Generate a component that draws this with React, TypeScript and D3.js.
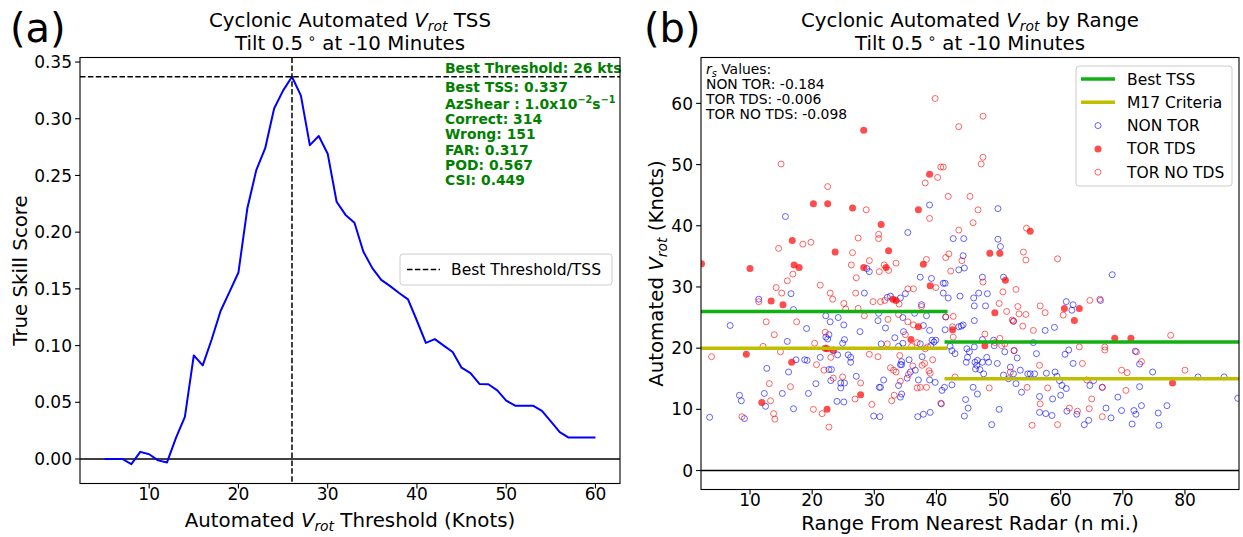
import React from 'react';
import * as d3 from 'd3';

// ---------- Panel (a) data ----------
const thresholds = [5,6,7,8,9,10,11,12,13,14,15,16,17,18,19,20,21,22,23,24,25,26,27,28,29,30,31,32,33,34,35,36,37,38,39,40,41,42,43,44,45,46,47,48,49,50,51,52,53,54,55,56,57,58,59,60];
const tssValues = [0,0,0,-0.0045,0.0063,0.0042,-0.0012,-0.003,0.0186,0.0371,0.0913,0.0826,0.1054,0.1305,0.1473,0.1644,0.221,0.2547,0.274,0.309,0.3248,0.337,0.3204,0.2767,0.2848,0.2692,0.2268,0.2152,0.2083,0.1828,0.1683,0.1579,0.1524,0.1464,0.1407,0.1219,0.1024,0.1057,0.1,0.0943,0.0805,0.0757,0.0662,0.0659,0.0605,0.0515,0.047,0.047,0.047,0.0425,0.0332,0.0237,0.0189,0.0189,0.0189,0.0189];
const bestThreshold = 26;
const bestTSS = 0.337;
const xTicksA = [10,20,30,40,50,60];
const yTicksA = [0,0.05,0.1,0.15,0.2,0.25,0.3,0.35];
const statLines = ['Best TSS: 0.337','AZSHEAR','Correct: 314','Wrong: 151','FAR: 0.317','POD: 0.567','CSI: 0.449'];

// ---------- Panel (b) data ----------
const nonTor: [number, number][] = [
  [38.9,43.4],[15.7,41.5],[35.4,38.9],[42.7,37.9],[28.8,33.0],[29.2,32.5],[37.4,31.6],[39.2,31.4],[43.6,32.8],[41.1,30.6],[41.4,30.6],[28.4,29.0],[16.6,28.9],[11.4,28.0],[32.1,28.3],[32.6,28.5],[34.2,28.2],[35.0,28.9],[37.6,27.1],[41.1,29.0],[41.9,28.2],[43.8,28.5],[17.0,26.3],
  [49.9,42.8],[44.4,37.9],[49.9,37.8],[50.3,36.6],[44.3,35.1],[44.5,33.1],[68.3,32.0],[47.4,31.6],[50.8,31.6],[46.8,29.0],[48.2,28.9],[46.0,28.2],[46.1,26.9],[47.9,26.9],[60.9,27.6],[62.0,27.1],[66.4,27.8],
  [6.8,23.7],[3.5,8.7],[8.3,12.3],[8.6,11.4],[9.1,8.5],[12.7,16.7],[12.3,12.6],[12.5,10.5],[15.2,12.6],[16.0,21.1],[16.2,16.1],[17.0,10.1],[17.4,18.1],[18.8,18.1],[19.2,18.0],[19.1,23.2],[19.4,12.6],[20.6,14.2],[21.3,18.5],[22.2,25.3],[22.2,21.8],[22.7,22.2],[22.9,24.3],[22.5,21.5],[22.7,16.5],[23.1,16.5],[23.0,14.7],[23.4,19.6],[24.1,18.9],[24.2,25.0],[24.0,11.3],[24.6,14.3],[24.6,13.5],[25.1,23.8],[25.2,21.4],[24.9,20.8],[25.2,14.3],[25.1,11.2],[25.8,18.9],[26.2,18.5],[26.2,17.7],[27.1,15.4],[27.7,22.7],[29.9,8.9],[30.6,24.5],[30.7,25.7],[30.8,13.6],[31.0,13.6],[30.9,8.8],[31.1,20.7],[31.5,14.8],[31.8,23.3],[33.3,21.7],[33.9,20.3],[33.9,13.9],[34.2,12.0],[34.4,12.5],[34.2,17.3],[34.4,17.3],[34.4,17.8],[34.6,25.0],[34.7,22.7],[34.6,20.8],[35.3,15.1],[35.8,16.1],[35.6,18.1],[36.5,25.7],[36.6,16.4],[37.0,8.8],[37.1,14.8],[37.4,20.7],[37.7,18.6],[37.9,23.7],[37.9,9.2],[38.4,25.3],[38.9,14.8],[39.0,9.5],[38.9,22.9],[39.1,20.4],[39.3,21.3],[39.6,21.0],[39.8,14.4],[39.9,21.3],[40.8,10.9],[40.9,13.1],[41.3,13.6],[41.5,25.1],[41.4,23.0],[42.5,14.0],[42.2,20.3],[42.5,19.6],[43.0,19.1],[43.6,23.5],
  [61.8,26.2],[44.0,23.6],[44.3,23.8],[46.1,24.5],[52.4,24.4],[57.5,22.9],[59.0,23.4],[44.9,19.9],[45.3,19.4],[45.0,18.5],[44.8,17.7],[46.1,20.2],[46.2,17.7],[46.6,18.0],[46.5,17.2],[46.3,16.6],[47.0,16.5],[47.4,17.7],[47.6,15.8],[48.1,18.5],[48.4,17.7],[47.4,21.4],[49.2,21.3],[49.3,20.4],[49.8,17.5],[51.0,19.4],[52.5,19.6],[53.0,18.4],[51.9,16.9],[50.8,15.6],[51.6,15.0],[52.4,15.8],[53.5,16.4],[55.6,20.9],[56.1,19.1],[54.7,15.8],[55.1,15.8],[55.8,15.8],[57.7,15.9],[59.1,16.1],[60.7,19.0],[61.3,19.7],[62.0,17.5],[72.0,19.5],[72.7,17.4],[74.8,16.1],[59.4,15.4],[59.8,14.7],[60.2,13.9],[60.9,13.4],[60.0,12.3],[58.7,11.7],[65.3,14.7],[64.7,13.9],[66.7,13.6],[56.6,12.1],[56.6,9.5],[57.6,9.3],[58.6,9.0],[53.7,12.8],[52.8,14.2],[46.6,12.5],[45.9,13.6],[44.7,11.6],[45.1,10.2],[44.5,8.9],[50.1,10.0],[48.9,7.5],[63.8,7.5],[64.5,8.2],[61.0,9.7],[62.6,9.2],[67.3,10.2],[68.1,8.6],[69.2,12.0],[69.8,9.8],[71.5,7.6],[71.8,9.8],[72.1,9.2],[72.7,13.7],[73.0,10.6],[75.7,9.4],[75.8,7.4],[77.1,10.6],[82.1,15.3],[86.3,15.3],[88.5,11.8]
];
const torTds: [number, number][] = [
  [28.3,55.6],[38.9,48.4],[20.2,43.6],[22.5,43.6],[26.5,42.9],[37.1,42.6],[31.1,40.2],[16.8,37.6],[23.7,35.7],[32.3,35.9],[2.2,33.8],[10.0,33.0],[17.1,33.6],[17.9,33.2],[28.3,33.2],[31.9,33.2],[37.9,33.7],[39.0,30.2],[13.4,27.7],[15.3,27.1],[33.0,28.0],[33.5,27.8],
  [55.1,39.1],[48.6,35.5],[50.2,35.5],[51.1,31.1],[60.6,26.5],[63.0,26.5],
  [9.4,19.0],[11.9,11.1],[16.7,17.7],[22.1,20.0],[22.4,19.9],[23.4,19.7],[22.4,10.0],[27.8,12.4],[35.9,21.4],[37.1,23.5],[42.6,23.0],
  [49.4,25.8],[62.2,24.5],[47.8,20.4],[68.7,21.6],[71.3,21.6],[78.0,14.3]
];
const torNoTds: [number, number][] = [
  [39.8,60.8],[43.6,56.2],[15.0,50.1],[40.2,47.9],[40.7,49.6],[41.1,49.6],[38.2,47.0],[22.5,46.4],[41.9,44.8],[28.7,42.6],[38.9,41.2],[43.6,39.3],[30.7,38.6],[30.7,37.9],[27.4,38.0],[14.6,36.3],[18.5,37.0],[19.8,37.3],[26.5,35.6],[38.4,34.5],[42.0,35.4],[41.5,34.8],[29.2,34.3],[26.3,33.6],[30.8,32.5],[31.6,33.6],[32.3,32.7],[33.5,33.9],[16.9,32.1],[27.1,31.5],[42.3,32.6],[16.0,31.0],[21.3,30.3],[39.9,29.9],[14.2,29.9],[22.9,29.0],[27.0,29.0],[15.1,29.0],[23.3,28.0],[11.4,27.6],[25.1,27.3],[29.8,27.6],[31.0,27.6],[31.7,27.8],[35.4,29.7],[36.3,29.7],[37.6,26.8],[34.0,27.2],[27.4,26.5],
  [47.5,57.9],[47.5,51.2],[47.2,50.1],[45.4,44.8],[46.7,42.6],[45.9,40.5],[54.5,39.6],[54.0,35.7],[54.4,34.4],[59.5,34.6],[44.1,34.3],[47.5,30.8],[50.7,29.2],[52.8,29.6],[50.1,27.3],[53.1,26.8],[56.7,26.9],[64.7,27.8],[66.3,28.0],
  [3.8,18.6],[8.7,8.8],[12.1,20.3],[12.6,24.3],[13.9,22.2],[13.1,14.2],[13.3,11.4],[13.8,9.3],[14.0,8.4],[14.9,19.4],[16.5,13.7],[17.5,24.3],[20.4,20.8],[20.2,10.0],[20.7,17.3],[21.6,9.3],[22.1,22.6],[21.9,16.4],[23.4,15.1],[22.7,7.1],[23.0,18.5],[24.9,15.3],[25.4,26.4],[26.9,11.7],[27.8,14.3],[28.4,25.3],[29.2,19.0],[29.6,10.8],[30.6,18.6],[32.1,20.7],[32.2,24.7],[32.6,16.8],[32.8,11.4],[33.1,16.4],[33.2,12.3],[33.5,16.1],[33.9,25.5],[34.1,18.8],[34.2,14.6],[35.0,22.2],[35.4,24.3],[35.5,15.7],[36.0,20.3],[36.2,17.1],[36.3,23.8],[36.9,20.9],[36.9,13.5],[37.4,13.6],[37.7,17.2],[38.1,17.5],[38.2,19.9],[38.4,13.6],[38.6,20.2],[38.8,16.3],[39.0,15.9],[39.4,18.1],[40.7,11.0],[41.5,25.1],[42.7,25.2],[42.7,21.8],[42.6,23.5],[43.0,15.3],
  [51.3,26.0],[53.3,25.6],[54.4,25.5],[57.5,25.8],[60.4,25.4],[52.2,24.6],[53.9,23.6],[55.6,22.9],[47.8,22.3],[49.4,20.9],[50.2,21.6],[51.0,20.7],[50.5,20.4],[52.5,19.6],[51.9,16.1],[56.6,17.2],[63.0,20.2],[63.5,17.5],[67.1,20.2],[67.1,19.7],[72.2,19.4],[73.0,17.8],[77.7,22.1],[80.0,16.4],[69.8,16.4],[70.7,16.0],[64.2,14.8],[66.7,13.6],[56.7,10.9],[57.9,13.5],[54.6,13.6],[48.5,13.5],[55.4,7.4],[59.5,7.5],[62.7,9.7],[61.4,10.2],[64.6,10.1],[65.0,11.7],[66.7,8.8],[70.5,13.1],[52.4,24.4]
];
// Threshold lines: [xStart, xEnd, value]
const bestTssSegments = [[2.11, 41.8, 26], [41.3, 88.7, 21]];
const m17Segments = [[2.11, 41.8, 20], [41.3, 88.7, 15]];
const xTicksB = [10,20,30,40,50,60,70,80];
const yTicksB = [0,10,20,30,40,50,60];
const rsLines = ['NON TOR: -0.184','TOR TDS: -0.006','TOR NO TDS: -0.098'];

const FONT = 'DejaVu Sans';
const TICK = 17;
const LABEL = 19.8;

export default function App() {
  // Panel a geometry
  const aL = 80, aR = 620, aT = 57.5, aB = 483.5;
  const xa = d3.scaleLinear().domain([2.25, 62.75]).range([aL, aR]);
  const ya = d3.scaleLinear().domain([-0.0216, 0.354]).range([aB, aT]);
  const linePath = d3.line<number>().x((_, i) => xa(thresholds[i])).y(d => ya(d))(tssValues) || '';

  // Panel b geometry
  const bL = 701, bR = 1239, bT = 57.5, bB = 489.5;
  const xb = d3.scaleLinear().domain([2.11, 88.7]).range([bL, bR]);
  const yb = d3.scaleLinear().domain([-3.1, 67.5]).range([bB, bT]);

  const green = '#12b012';
  const yellow = '#bfbf00';
  const annoGreen = '#008000';
  const r = 3;

  return (
    <svg width={1243} height={537} style={{ position: 'absolute', left: 0, top: 0, background: '#fff' }} fontFamily={FONT}>
      <defs>
        <clipPath id="clipA"><rect x={aL} y={aT} width={aR - aL} height={aB - aT} /></clipPath>
        <clipPath id="clipB"><rect x={bL} y={bT} width={bR - bL} height={bB - bT} /></clipPath>
      </defs>
      <rect x={0} y={0} width={1243} height={537} fill="#fff" />

      {/* ================= Panel (a) ================= */}
      <text x={10} y={42} fontSize={40}>(a)</text>
      <text x={(aL + aR) / 2} y={27} fontSize={LABEL} textAnchor="middle">
        Cyclonic Automated <tspan fontStyle="italic">V</tspan><tspan fontStyle="italic" fontSize={LABEL * 0.7} dy={4}>rot</tspan><tspan dy={-4}> TSS</tspan>
      </text>
      <text x={(aL + aR) / 2} y={50} fontSize={LABEL} textAnchor="middle">
        Tilt 0.5<tspan fontSize={LABEL * 0.7} dy={-7}> ∘</tspan><tspan dy={7}>  at -10 Minutes</tspan>
      </text>

      <g clipPath="url(#clipA)">
        <line x1={aL} x2={aR} y1={ya(0)} y2={ya(0)} stroke="#000" strokeWidth={1.5} />
        <path d={linePath} fill="none" stroke="#0000ff" strokeWidth={2} strokeLinejoin="round" />
        <line x1={xa(bestThreshold)} x2={xa(bestThreshold)} y1={aT} y2={aB} stroke="#000" strokeWidth={1.5} strokeDasharray="5.5,2.4" />
        <line x1={aL} x2={aR} y1={ya(bestTSS)} y2={ya(bestTSS)} stroke="#000" strokeWidth={1.5} strokeDasharray="5.5,2.4" />
      </g>

      {/* annotations */}
      <g fill={annoGreen} fontWeight="bold" fontSize={13.9}>
        <text x={445} y={73}>Best Threshold: 26 kts</text>
        {statLines.map((s, i) => {
          const y = 92 + i * 15.3 + (i >= 1 ? 1.5 : 0);
          if (s === 'AZSHEAR') {
            return (
              <text key={i} x={445} y={y}>
                AzShear : 1.0x10<tspan fontSize={9.7} dy={-6}>−2</tspan><tspan dy={6}>s</tspan><tspan fontSize={9.7} dy={-6}>−1</tspan>
              </text>
            );
          }
          return <text key={i} x={445} y={y}>{s}</text>;
        })}
      </g>

      {/* legend a */}
      <rect x={400} y={254} width={212} height={31} rx={3} fill="#fff" fillOpacity={0.8} stroke="#cccccc" strokeWidth={1} />
      <line x1={407} x2={440} y1={269.5} y2={269.5} stroke="#000" strokeWidth={1.5} strokeDasharray="5.5,2.4" />
      <text x={451} y={275} fontSize={15.5}>Best Threshold/TSS</text>

      {/* axes a */}
      <rect x={aL} y={aT} width={aR - aL} height={aB - aT} fill="none" stroke="#000" strokeWidth={1.1} />
      {xTicksA.map(t => (
        <g key={t}>
          <line x1={xa(t)} x2={xa(t)} y1={aB} y2={aB + 4.9} stroke="#000" strokeWidth={1.1} />
          <text x={xa(t)} y={aB + 16.5} fontSize={TICK} textAnchor="middle">{t}</text>
        </g>
      ))}
      {yTicksA.map(t => (
        <g key={t}>
          <line x1={aL - 4.9} x2={aL} y1={ya(t)} y2={ya(t)} stroke="#000" strokeWidth={1.1} />
          <text x={aL - 8} y={ya(t)} dy="0.36em" fontSize={TICK} textAnchor="end">{t.toFixed(2)}</text>
        </g>
      ))}
      <text x={(aL + aR) / 2} y={526.5} fontSize={LABEL} textAnchor="middle">
        Automated <tspan fontStyle="italic">V</tspan><tspan fontStyle="italic" fontSize={LABEL * 0.7} dy={4}>rot</tspan><tspan dy={-4}> Threshold (Knots)</tspan>
      </text>
      <text transform={`translate(27,${(aT + aB) / 2}) rotate(-90)`} fontSize={LABEL} textAnchor="middle">True Skill Score</text>

      {/* ================= Panel (b) ================= */}
      <text x={644} y={42} fontSize={40}>(b)</text>
      <text x={(bL + bR) / 2} y={27} fontSize={LABEL} textAnchor="middle">
        Cyclonic Automated <tspan fontStyle="italic">V</tspan><tspan fontStyle="italic" fontSize={LABEL * 0.7} dy={4}>rot</tspan><tspan dy={-4}> by Range</tspan>
      </text>
      <text x={(bL + bR) / 2} y={50} fontSize={LABEL} textAnchor="middle">
        Tilt 0.5<tspan fontSize={LABEL * 0.7} dy={-7}> ∘</tspan><tspan dy={7}>  at -10 Minutes</tspan>
      </text>

      <g clipPath="url(#clipB)">
        {nonTor.map((d, i) => (
          <circle key={'n' + i} cx={xb(d[0])} cy={yb(d[1])} r={r} fill="none" stroke="#0000ff" strokeOpacity={0.6} strokeWidth={1} />
        ))}
        {torTds.map((d, i) => (
          <circle key={'t' + i} cx={xb(d[0])} cy={yb(d[1])} r={r + 0.5} fill="#ff0000" fillOpacity={0.7} stroke="none" />
        ))}
        {torNoTds.map((d, i) => (
          <circle key={'o' + i} cx={xb(d[0])} cy={yb(d[1])} r={r} fill="none" stroke="#ff0000" strokeOpacity={0.6} strokeWidth={1} />
        ))}
        {bestTssSegments.map((s, i) => (
          <line key={'g' + i} x1={xb(s[0])} x2={xb(s[1])} y1={yb(s[2])} y2={yb(s[2])} stroke={green} strokeWidth={3.5} />
        ))}
        {m17Segments.map((s, i) => (
          <line key={'y' + i} x1={xb(s[0])} x2={xb(s[1])} y1={yb(s[2])} y2={yb(s[2])} stroke={yellow} strokeWidth={3.5} />
        ))}
        <line x1={bL} x2={bR} y1={yb(0)} y2={yb(0)} stroke="#000" strokeWidth={1.5} />
      </g>

      {/* r_s text */}
      <g fontSize={13.9} fill="#000">
        <text x={706} y={73.5}><tspan fontStyle="italic">r</tspan><tspan fontStyle="italic" fontSize={9.7} dy={3}>s</tspan><tspan dy={-3}> Values:</tspan></text>
        {rsLines.map((s, i) => (
          <text key={i} x={706} y={89 + i * 15}>{s}</text>
        ))}
      </g>

      {/* legend b */}
      <rect x={1076} y={66} width={156} height={120} rx={3} fill="#fff" fillOpacity={0.8} stroke="#cccccc" strokeWidth={1} />
      <line x1={1081} x2={1115} y1={79} y2={79} stroke={green} strokeWidth={3.5} />
      <text x={1127} y={84.5} fontSize={15.5}>Best TSS</text>
      <line x1={1081} x2={1115} y1={102.3} y2={102.3} stroke={yellow} strokeWidth={3.5} />
      <text x={1127} y={107.8} fontSize={15.5}>M17 Criteria</text>
      <circle cx={1098} cy={125.6} r={r} fill="none" stroke="#0000ff" strokeOpacity={0.6} />
      <text x={1127} y={131.1} fontSize={15.5}>NON TOR</text>
      <circle cx={1098} cy={148.9} r={r + 0.5} fill="#ff0000" fillOpacity={0.7} />
      <text x={1127} y={154.4} fontSize={15.5}>TOR TDS</text>
      <circle cx={1098} cy={172.2} r={r} fill="none" stroke="#ff0000" strokeOpacity={0.6} />
      <text x={1127} y={177.7} fontSize={15.5}>TOR NO TDS</text>

      {/* axes b */}
      <rect x={bL} y={bT} width={bR - bL} height={bB - bT} fill="none" stroke="#000" strokeWidth={1.1} />
      {xTicksB.map(t => (
        <g key={t}>
          <line x1={xb(t)} x2={xb(t)} y1={bB} y2={bB + 4.9} stroke="#000" strokeWidth={1.1} />
          <text x={xb(t)} y={bB + 16.5} fontSize={TICK} textAnchor="middle">{t}</text>
        </g>
      ))}
      {yTicksB.map(t => (
        <g key={t}>
          <line x1={bL - 4.9} x2={bL} y1={yb(t)} y2={yb(t)} stroke="#000" strokeWidth={1.1} />
          <text x={bL - 8} y={yb(t)} dy="0.36em" fontSize={TICK} textAnchor="end">{t}</text>
        </g>
      ))}
      <text x={(bL + bR) / 2} y={529.5} fontSize={LABEL} textAnchor="middle">Range From Nearest Radar (n mi.)</text>
      <text transform={`translate(663,${(bT + bB) / 2}) rotate(-90)`} fontSize={LABEL} textAnchor="middle">
        Automated <tspan fontStyle="italic">V</tspan><tspan fontStyle="italic" fontSize={LABEL * 0.7} dy={4}>rot</tspan><tspan dy={-4}> (Knots)</tspan>
      </text>
    </svg>
  );
}
